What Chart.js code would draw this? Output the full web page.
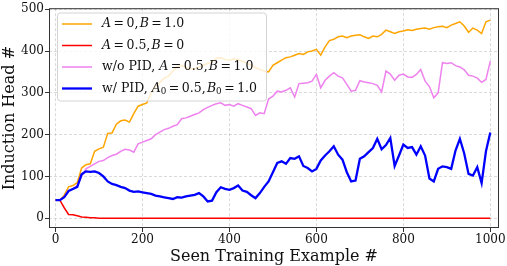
<!DOCTYPE html>
<html>
<head>
<meta charset="utf-8">
<script src="https://cdn.jsdelivr.net/npm/chart.js@4.4.0/dist/chart.umd.min.js"></script>
<style>
  html, body { margin: 0; padding: 0; background: #fff; }
  #wrap { width: 507px; height: 266px; }
</style>
</head>
<body>
<div id="wrap"><canvas id="c"></canvas></div>
<script>
// seen training examples (x)
let steps = [0, 10, 20, 30, 40, 50, 60, 70, 80, 90,
  100, 110, 120, 130, 140, 150, 160, 170, 180, 190,
  200, 210, 220, 230, 240, 250, 260, 270, 280, 290,
  300, 310, 320, 330, 340, 350, 360, 370, 380, 390,
  400, 410, 420, 430, 440, 450, 460, 470, 480, 490,
  500, 510, 520, 530, 540, 550, 560, 570, 580, 590,
  600, 610, 620, 630, 640, 650, 660, 670, 680, 690,
  700, 710, 720, 730, 740, 750, 760, 770, 780, 790,
  800, 810, 820, 830, 840, 850, 860, 870, 880, 890,
  900, 910, 920, 930, 940, 950, 960, 970, 980, 990,
  1000];

// A=0, B=1.0
let heads_a0_b1 = [43, 43, 55, 75, 78, 85, 120, 128, 130, 160,
  166, 170, 203, 204, 225, 233, 235, 230, 250, 268,
  272, 276, 300, 315, 325, 335, 340, 352, 362, 366,
  360, 358, 357, 362, 366, 370, 374, 383, 384, 380,
  378, 381, 379, 375, 372, 366, 360, 356, 352, 350,
  366, 372, 378, 384, 386, 390, 394, 392, 398, 400,
  404, 390, 410, 425, 428, 434, 436, 432, 436, 438,
  439, 434, 430, 436, 434, 440, 450, 446, 442, 446,
  448, 451, 449, 452, 454, 455, 452, 456, 458, 459,
  456, 462, 466, 470, 460, 445, 455, 450, 442, 470,
  474];

// A=0.5, B=0
let heads_a05_b0 = [43, 43, 25, 9, 8, 6, 3, 2, 1, 1,
  0, 0, 0, 0, 0, 0, 0, 0, 0, 0,
  0, 0, 0, 0, 0, 0, 0, 0, 0, 0,
  0, 0, 0, 0, 0, 0, 0, 0, 0, 0,
  0, 0, 0, 0, 0, 0, 0, 0, 0, 0,
  0, 0, 0, 0, 0, 0, 0, 0, 0, 0,
  0, 0, 0, 0, 0, 0, 0, 0, 0, 0,
  0, 0, 0, 0, 0, 0, 0, 0, 0, 0,
  0, 0, 0, 0, 0, 0, 0, 0, 0, 0,
  0, 0, 0, 0, 0, 0, 0, 0, 0, 0,
  0];

// w/o PID, A=0.5, B=1.0
let heads_no_pid = [43, 43, 50, 65, 70, 78, 100, 118, 124, 130,
  136, 138, 145, 150, 153, 160, 165, 163, 158, 178,
  182, 186, 190, 200, 206, 212, 215, 220, 224, 238,
  240, 244, 248, 252, 260, 265, 270, 274, 276, 270,
  272, 268, 274, 270, 266, 262, 246, 252, 250, 285,
  292, 304, 302, 306, 312, 290, 322, 323, 324, 328,
  344, 312, 330, 340, 348, 340, 336, 320, 304, 306,
  329, 326, 324, 322, 318, 302, 352, 345, 330, 342,
  345, 338, 337, 344, 356, 328, 315, 288, 300, 372,
  370, 372, 365, 362, 355, 342, 340, 335, 325, 332,
  376];

// w/ PID, A0=0.5, B0=1.0
let heads_pid = [43, 43, 50, 65, 70, 75, 105, 112, 111, 112,
  108, 100, 88, 82, 79, 75, 72, 66, 63, 64,
  62, 60, 58, 54, 52, 50, 48, 46, 50, 49,
  52, 54, 56, 60, 52, 40, 42, 62, 74, 70,
  68, 72, 78, 66, 63, 55, 48, 60, 75, 88,
  110, 132, 136, 130, 144, 142, 148, 125, 120, 112,
  118, 138, 150, 160, 172, 152, 140, 110, 88, 90,
  142, 148, 158, 168, 190, 165, 175, 192, 125, 150,
  176, 168, 170, 152, 172, 150, 95, 88, 118, 124,
  122, 118, 162, 190, 155, 106, 102, 122, 84, 160,
  205];

let x_ticks = [0, 200, 400, 600, 800, 1000];
let y_ticks = [0, 100, 200, 300, 400, 500];

// legend labels, pieces: [text, "r" regular | "i" italic | "s" subscript]
let legend_labels = [
  [["A", "i"], ["\u2009=\u20090,\u200a", "r"], ["B", "i"], ["\u2009=\u20091.0", "r"]],
  [["A", "i"], ["\u2009=\u20090.5,\u200a", "r"], ["B", "i"], ["\u2009=\u20090", "r"]],
  [["w/o PID, ", "r"], ["A", "i"], ["\u2009=\u20090.5,\u200a", "r"], ["B", "i"], ["\u2009=\u20091.0", "r"]],
  [["w/ PID, ", "r"], ["A", "i"], ["0", "s"], ["\u2009=\u20090.5,\u200a", "r"], ["B", "i"], ["0", "s"], ["\u2009=\u20091.0", "r"]],
];

const serif = "'DejaVu Serif', serif";
const grid_color = "rgba(170, 170, 170, 0.55)";
const LEG_FONT = 12.5;

let toPoints = (ys) => steps.map((x, i) => ({ x: x, y: ys[i] }));

let series = [
  { data: heads_a0_b1, color: "#FFA500", width: 1.5, order: 4 },
  { data: heads_a05_b0, color: "#FF0000", width: 1.5, order: 3 },
  { data: heads_no_pid, color: "#EE82EE", width: 1.5, order: 2 },
  { data: heads_pid, color: "#0000FF", width: 2.3, order: 1 },
];

let drawRich = (ctx, parts, x, y) => {
  parts.forEach((p) => {
    let size = p[1] === "s" ? LEG_FONT * 0.7 : LEG_FONT;
    ctx.font = (p[1] === "i" ? "italic " : "") + size + "px " + serif;
    let dy = p[1] === "s" ? LEG_FONT * 0.25 : 0;
    ctx.fillText(p[0], x, y + dy);
    x += ctx.measureText(p[0]).width;
  });
};

let framePlugin = {
  id: "frame",
  afterDatasetsDraw(chart) {
    let ctx = chart.ctx, a = chart.chartArea;
    ctx.save();
    ctx.strokeStyle = "#333";
    ctx.lineWidth = 1;
    ctx.strokeRect(a.left + 0.5, a.top + 0.5, a.right - a.left - 1, a.bottom - a.top - 1);
    ctx.restore();
  },
  afterDraw(chart) {
    let ctx = chart.ctx;
    ctx.save();
    // legend box
    let bx = 57, by = 12.5, bw = 209, bh = 88;
    ctx.beginPath();
    ctx.roundRect(bx + 0.5, by + 0.5, bw, bh, 3);
    ctx.fillStyle = "rgba(255, 255, 255, 0.8)";
    ctx.fill();
    ctx.strokeStyle = "#d4d4d4";
    ctx.lineWidth = 1;
    ctx.stroke();
    let rows = [24, 45.5, 67, 88.5];
    ctx.textBaseline = "middle";
    legend_labels.forEach((parts, i) => {
      ctx.beginPath();
      ctx.moveTo(62, rows[i]);
      ctx.lineTo(92, rows[i]);
      ctx.strokeStyle = series[i].color;
      ctx.lineWidth = series[i].width;
      ctx.stroke();
      ctx.fillStyle = "#111";
      drawRich(ctx, parts, 102, rows[i]);
    });
    ctx.restore();
  },
};

new Chart(document.getElementById("c"), {
  type: "line",
  data: {
    datasets: series.map((s) => ({
      data: toPoints(s.data),
      borderColor: s.color,
      borderWidth: s.width,
      pointRadius: 0,
      tension: 0,
      fill: false,
      order: s.order,
    })),
  },
  options: {
    responsive: true,
    maintainAspectRatio: false,
    animation: false,
    devicePixelRatio: 1,
    layout: { padding: { top: 5, right: 8, left: 0, bottom: 0 } },
    plugins: { legend: { display: false }, tooltip: { enabled: false } },
    scales: {
      x: {
        type: "linear",
        min: -15,
        max: 1020,
        afterBuildTicks: (s) => { s.ticks = x_ticks.map((v) => ({ value: v })); },
        afterFit: (s) => { s.height = 38; },
        grid: { color: grid_color, lineWidth: 0.8, tickLength: 4, tickColor: "#333", tickWidth: 1, tickBorderDash: [] },
        border: { display: false, dash: [3, 2] },
        ticks: { font: { family: serif, size: 12 }, color: "#111", padding: 1, maxRotation: 0, callback: (v) => String(v) },
        title: { display: true, text: "Seen Training Example #", font: { family: serif, size: 16 }, color: "#111", padding: { top: 0, bottom: 0 } },
      },
      y: {
        type: "linear",
        min: -23.5,
        max: 502.5,
        afterBuildTicks: (s) => { s.ticks = y_ticks.map((v) => ({ value: v })); },
        afterFit: (s) => { s.width = 49; },
        grid: { color: grid_color, lineWidth: 0.8, tickLength: 4, tickColor: "#333", tickWidth: 1, tickBorderDash: [] },
        border: { display: false, dash: [3, 2] },
        ticks: { font: { family: serif, size: 12 }, color: "#111", padding: 1, callback: (v) => String(v) },
        title: { display: true, text: "Induction Head #", font: { family: serif, size: 16 }, color: "#111", padding: { top: 0, bottom: 0 } },
      },
    },
  },
  plugins: [framePlugin],
});
</script>
</body>
</html>
